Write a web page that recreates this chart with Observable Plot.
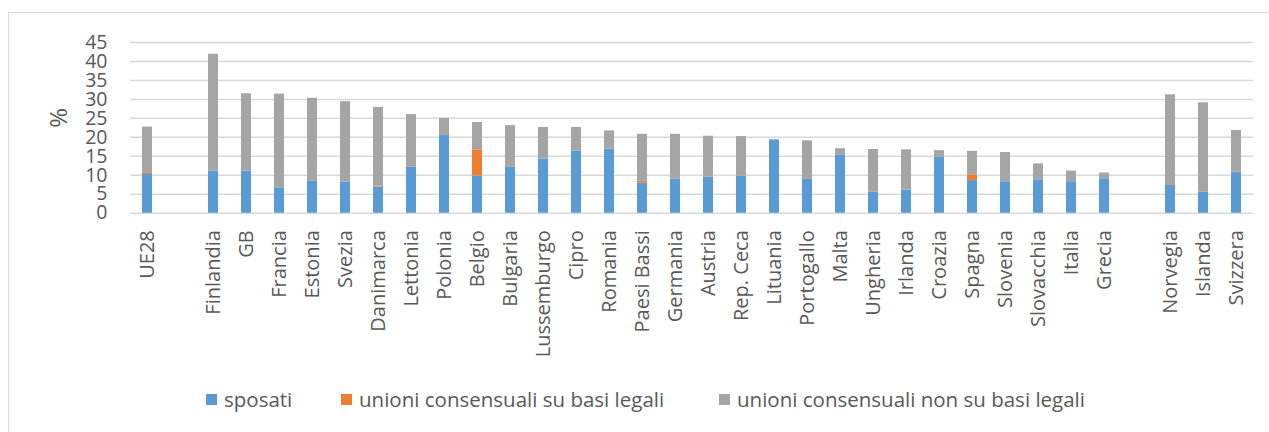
<!DOCTYPE html>
<html><head><meta charset="utf-8">
<script src="https://cdn.jsdelivr.net/npm/d3@7"></script>
<script src="https://cdn.jsdelivr.net/npm/@observablehq/plot@0.6"></script>
<style>
body{margin:0;background:#fff;font-family:"Open Sans",sans-serif;width:1269px;height:432px;overflow:hidden;}
#chart{position:absolute;left:0;top:0;}
#frame{position:absolute;left:8px;top:12px;width:1300px;height:440px;border:1.5px solid #d9d9d9;pointer-events:none;}
#legend{position:absolute;left:0;top:384px;width:1269px;height:30px;font-size:20.5px;color:#595959;}
.item{position:absolute;top:0;display:flex;align-items:center;height:30px;white-space:nowrap;}
.sw{width:11px;height:11px;margin-right:7px;flex:none;}
</style></head><body>
<div id="chart"></div><div id="frame"></div><div id="legend"></div>
<script>
const categories = ["UE28","_gap1","Finlandia","GB","Francia","Estonia","Svezia","Danimarca","Lettonia","Polonia","Belgio","Bulgaria","Lussemburgo","Cipro","Romania","Paesi Bassi","Germania","Austria","Rep. Ceca","Lituania","Portogallo","Malta","Ungheria","Irlanda","Croazia","Spagna","Slovenia","Slovacchia","Italia","Grecia","_gap2","Norvegia","Islanda","Svizzera"];
const countries = ["UE28","Finlandia","GB","Francia","Estonia","Svezia","Danimarca","Lettonia","Polonia","Belgio","Bulgaria","Lussemburgo","Cipro","Romania","Paesi Bassi","Germania","Austria","Rep. Ceca","Lituania","Portogallo","Malta","Ungheria","Irlanda","Croazia","Spagna","Slovenia","Slovacchia","Italia","Grecia","Norvegia","Islanda","Svizzera"];
const sposati   = [10.2,11.1,11.1,6.7,8.4,8.2,6.9,12.1,20.5,9.8,12.1,14.3,16.4,16.9,7.9,9.0,9.5,9.8,19.3,8.9,15.4,5.5,6.1,14.8,8.6,8.3,8.8,8.3,9.1,7.3,5.5,10.8];
const legali    = [0.3,0,0,0,0,0,0.2,0,0,6.9,0,0,0,0,0.5,0,0,0,0,0,0,0,0,0,1.5,0,0,0,0,0,0,0];
const nonLegali = [12.2,30.8,20.4,24.7,21.9,21.2,20.8,13.9,4.5,7.2,11.0,8.3,6.2,4.8,12.4,11.8,10.8,10.4,0.1,10.2,1.6,11.3,10.6,1.7,6.2,7.7,4.2,2.8,1.5,23.9,23.6,11.0];
const seriesNames = ["sposati","unioni consensuali su basi legali","unioni consensuali non su basi legali"];
const seriesColors = ["#5B9BD5","#ED7D31","#A5A5A5"];
const yTicks = [0,5,10,15,20,25,30,35,40,45];
const yLabel = "%";

const seriesValues = [sposati, legali, nonLegali];
const rows = [];
countries.forEach((c, i) => {
  seriesNames.forEach((s, k) => rows.push({country: c, series: s, value: seriesValues[k][i]}));
});

const chart = Plot.plot({
  width: 1269,
  height: 360,
  marginTop: 42,
  marginBottom: 147.3,
  marginLeft: 130,
  marginRight: 16,
  style: {fontFamily: "'Open Sans', sans-serif", color: "#595959", background: "none"},
  x: {domain: categories, paddingInner: 0.7, paddingOuter: 0.35, axis: null},
  y: {domain: [0, 45], axis: null},
  color: {domain: seriesNames, range: seriesColors},
  marks: [
    Plot.gridY(yTicks, {stroke: "#d9d9d9", strokeOpacity: 1, strokeWidth: 1.5}),
    Plot.barY(rows, {x: "country", y: "value", fill: "series", order: seriesNames}),
    Plot.axisY(yTicks, {tickSize: 0, tickPadding: 23, fontSize: 19.5, label: null}),
    Plot.text([yLabel], {text: d => d, frameAnchor: "left", dx: -71, rotate: -90, fontSize: 24, fill: "#595959"}),
    Plot.axisX({tickRotate: -90, tickSize: 0, tickPadding: 17, fontSize: 20, label: null,
      tickFormat: d => d.startsWith("_gap") ? "" : d})
  ]
});
document.getElementById("chart").appendChild(chart);

const legendLefts = [206, 341, 719];
const legend = document.getElementById("legend");
seriesNames.forEach((s, k) => {
  const item = document.createElement("div");
  item.className = "item";
  item.style.left = legendLefts[k] + "px";
  const sw = document.createElement("span");
  sw.className = "sw";
  sw.style.background = seriesColors[k];
  const t = document.createElement("span");
  t.textContent = s;
  item.appendChild(sw); item.appendChild(t);
  legend.appendChild(item);
});
</script>
</body></html>
